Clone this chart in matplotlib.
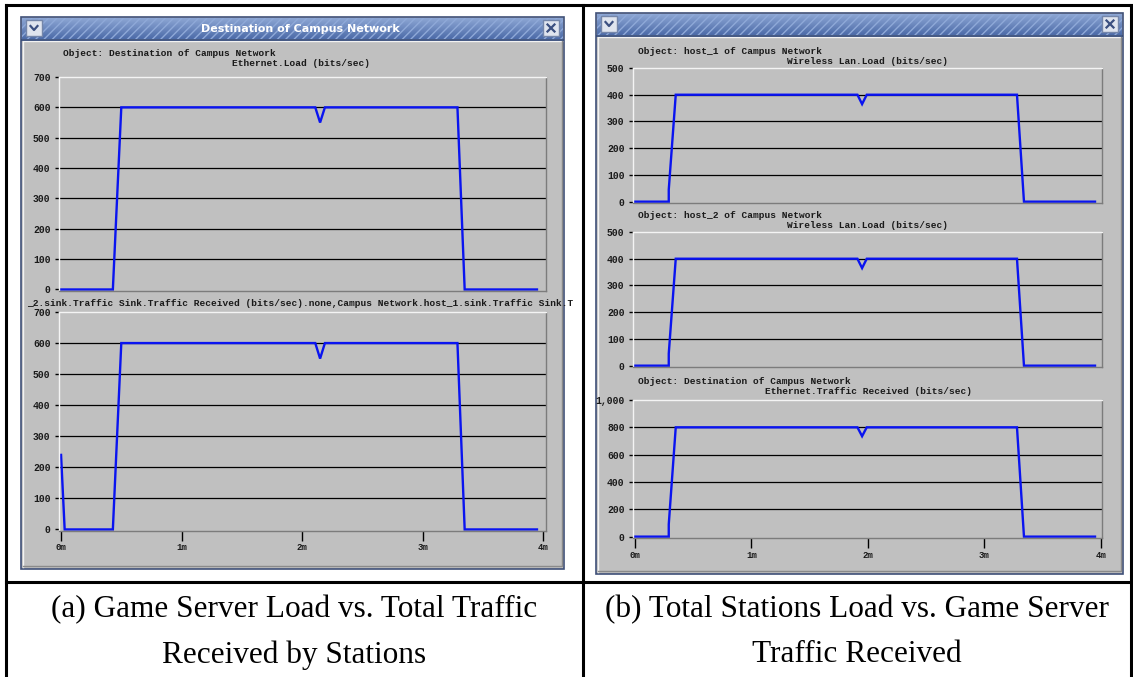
import matplotlib.pyplot as plt
import numpy as np
from matplotlib.patches import Rectangle

W, H = 1133, 677

# 時間軸（分）と各系列の値（bits/sec）
t_a_load = [0.0, 0.43, 0.50, 2.11, 2.15, 2.19, 3.29, 3.35, 3.95]
a_load = [0, 0, 600, 600, 550, 600, 600, 0, 0]
t_a_recv = [0.0, 0.03, 0.43, 0.50, 2.11, 2.15, 2.19, 3.29, 3.35, 3.95]
a_recv = [240, 0, 0, 600, 600, 550, 600, 600, 0, 0]

t_b = [0.0, 0.29, 0.29, 0.35, 1.91, 1.95, 1.99, 3.28, 3.34, 3.95]
b_host1 = [0, 0, 45, 400, 400, 365, 400, 400, 0, 0]
b_host2 = [0, 0, 45, 400, 400, 365, 400, 400, 0, 0]
b_dest = [0, 0, 90, 800, 800, 735, 800, 800, 0, 0]

x_ticks = [0, 1, 2, 3, 4]
x_tick_labels = ["0m", "1m", "2m", "3m", "4m"]
y_ticks_700 = [0, 100, 200, 300, 400, 500, 600, 700]
y_ticks_500 = [0, 100, 200, 300, 400, 500]
y_ticks_1000 = [0, 200, 400, 600, 800, 1000]
y_labels_1000 = ["0", "200", "400", "600", "800", "1,000"]

GRAY = "#c0c0c0"
MONO = "Liberation Mono"
TXT = dict(family=MONO, fontsize=6.8, fontweight="bold", color="#1a1a1a", va="center", zorder=6)

fig = plt.figure(figsize=(W / 100, H / 100), dpi=100)
fig.patch.set_facecolor("white")

# 背景の装飾用（ピクセル座標）
deco = fig.add_axes([0, 0, 1, 1])
deco.set_xlim(0, W)
deco.set_ylim(H, 0)
deco.axis("off")


def window(x0, y0, x1, y1, title=None):
    # ウィンドウ本体
    body = Rectangle((x0, y0), x1 - x0, y1 - y0, facecolor=GRAY,
                     edgecolor="#3f5078", lw=1.2, zorder=1)
    deco.add_patch(body)
    deco.plot([x0 + 2, x0 + 2, x1 - 2], [y1 - 2, y0 + 24, y0 + 24], color="#f2f2f2", lw=1, zorder=2)
    deco.plot([x0 + 2, x1 - 2, x1 - 2], [y1 - 3, y1 - 3, y0 + 24], color="#8a8a8a", lw=1, zorder=2)
    # タイトルバー（グラデーション＋斜線）
    grad = np.linspace(0, 1, 50).reshape(-1, 1)
    top = np.array([0.55, 0.65, 0.83])
    bot = np.array([0.30, 0.42, 0.66])
    img = top + (bot - top) * grad[:, :, None]
    deco.imshow(img, extent=(x0 + 1, x1 - 1, y0 + 22, y0 + 1), aspect="auto", zorder=2)
    deco.add_patch(Rectangle((x0 + 1, y0 + 1), x1 - x0 - 2, 21, facecolor="none",
                             edgecolor="#8fa9d8", hatch="////", lw=0, zorder=3))
    deco.plot([x0 + 1, x1 - 1], [y0 + 22.5, y0 + 22.5], color="#2e4678", lw=1.2, zorder=3)
    # 左のボタン
    deco.add_patch(Rectangle((x0 + 5, y0 + 3), 16, 16, facecolor="#dfe4ee",
                             edgecolor="#7486aa", lw=1, zorder=4))
    deco.plot([x0 + 9.5, x0 + 13, x0 + 16.5], [y0 + 9, y0 + 13, y0 + 9], color="#3b4f80", lw=1.6, zorder=5)
    # 右のボタン
    deco.add_patch(Rectangle((x1 - 21, y0 + 3), 16, 16, facecolor="#dfe4ee",
                             edgecolor="#7486aa", lw=1, zorder=4))
    deco.plot([x1 - 16.5, x1 - 9.5], [y0 + 7.5, y0 + 14.5], color="#3b4f80", lw=1.6, zorder=5)
    deco.plot([x1 - 16.5, x1 - 9.5], [y0 + 14.5, y0 + 7.5], color="#3b4f80", lw=1.6, zorder=5)
    if title:
        deco.text((x0 + x1) / 2 + 8, y0 + 12, title, color="white", fontsize=8,
                  fontweight="bold", family="DejaVu Sans", ha="center", va="center", zorder=6)
    return body


def plot_area(x0, y0, x1, y1, t, v, ylim, yticks, ylabels=None, xlabels=False, xlim=(-0.017, 4.025)):
    ax = fig.add_axes([x0 / W, 1 - y1 / H, (x1 - x0) / W, (y1 - y0) / H])
    ax.set_facecolor(GRAY)
    ax.plot(t, v, color="#0a14f0", lw=1.7, solid_joinstyle="miter")
    ax.set_xlim(*xlim)
    ax.set_ylim(*ylim)
    ax.set_yticks(yticks)
    ax.set_yticklabels(ylabels if ylabels else [str(y) for y in yticks],
                       family=MONO, fontsize=7, fontweight="bold", color="#1a1a1a")
    ax.tick_params(axis="y", length=3, width=1, pad=3, color="black")
    ax.set_xticks(x_ticks)
    if xlabels:
        ax.set_xticklabels(x_tick_labels, family=MONO, fontsize=6.5, fontweight="bold", color="#1a1a1a")
        ax.tick_params(axis="x", length=7, width=1, pad=2, color="black")
    else:
        ax.tick_params(axis="x", length=0, labelbottom=False)
    ax.yaxis.grid(True, color="black", lw=0.9)
    ax.xaxis.grid(False)
    grid = ax.get_ygridlines()
    grid[0].set_visible(False)
    grid[-1].set_visible(False)
    ax.set_axisbelow(True)
    for side in ["top", "left"]:
        ax.spines[side].set_color("#f4f4f4")
    for side in ["right", "bottom"]:
        ax.spines[side].set_color("#7c7c7c")
    for s in ax.spines.values():
        s.set_linewidth(1)
    return ax


# 左のウィンドウ
window(21, 17, 564, 569, "Destination of Campus Network")
deco.text(63, 54, "Object: Destination of Campus Network", **TXT)
deco.text(232, 63, "Ethernet.Load (bits/sec)", **TXT)
deco.text(27, 304, "_2.sink.Traffic Sink.Traffic Received (bits/sec).none,"
          "Campus Network.host_1.sink.Traffic Sink.T", **TXT)

plot_area(59, 77, 546, 291, t_a_load, a_load, (-5, 700), y_ticks_700)
plot_area(59, 312, 546, 531, t_a_recv, a_recv, (-5, 700), y_ticks_700, xlabels=True)

# 右のウィンドウ
window(596, 13, 1123, 574)
headers = [
    (52, "Object: host_1 of Campus Network", 61, 787, "Wireless Lan.Load (bits/sec)"),
    (216, "Object: host_2 of Campus Network", 226, 787, "Wireless Lan.Load (bits/sec)"),
    (382, "Object: Destination of Campus Network", 392, 765, "Ethernet.Traffic Received (bits/sec)"),
]
for y1, s1, y2, x2, s2 in headers:
    deco.text(638, y1, s1, **TXT)
    deco.text(x2, y2, s2, **TXT)

xl_b = (-0.017, 4.01)
plot_area(633, 68, 1102, 203, t_b, b_host1, (-5, 500), y_ticks_500, xlim=xl_b)
plot_area(633, 232, 1102, 367, t_b, b_host2, (-5, 500), y_ticks_500, xlim=xl_b)
plot_area(633, 400, 1102, 538, t_b, b_dest, (-10, 1000), y_ticks_1000, y_labels_1000,
          xlabels=True, xlim=xl_b)

# 表の罫線
deco.plot([6, 1131], [5, 5], color="black", lw=2.2, zorder=7)
deco.plot([6, 1131], [582, 582], color="black", lw=2.2, zorder=7)
deco.plot([6, 6], [5, H], color="black", lw=2.2, zorder=7)
deco.plot([583, 583], [5, H], color="black", lw=2.2, zorder=7)
deco.plot([1131, 1131], [5, H], color="black", lw=2.2, zorder=7)

# キャプション
cap = dict(family="Liberation Serif", fontsize=22.5, ha="center", va="center", zorder=7)
deco.text(294, 610, "(a) Game Server Load vs. Total Traffic", **cap)
deco.text(294, 655, "Received by Stations", **cap)
deco.text(857, 610, "(b) Total Stations Load vs. Game Server", **cap)
deco.text(857, 655, "Traffic Received", **cap)

plt.savefig("out.png", dpi=100)
plt.close()
